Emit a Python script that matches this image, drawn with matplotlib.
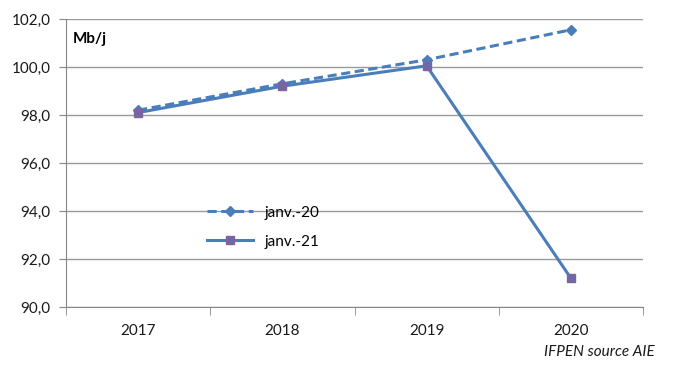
import matplotlib.pyplot as plt
from matplotlib.ticker import FixedLocator, FuncFormatter

years = ["2017", "2018", "2019", "2020"]
janv20 = [98.2, 99.3, 100.3, 101.55]
janv21 = [98.1, 99.2, 100.05, 91.2]
y_ticks = [90, 92, 94, 96, 98, 100, 102]

plt.rcParams["font.family"] = ["Lato", "DejaVu Sans"]

fig = plt.figure(figsize=(6.74, 3.74), dpi=100)
ax = fig.add_axes([66 / 674, 1 - 307 / 374, 577 / 674, 288 / 374])

x = list(range(len(years)))
blue = "#4a7ebb"
ax.plot(x, janv20, color=blue, lw=2.2, ls=(0, (3, 1.5)), marker="D", ms=5,
        mfc=blue, mec=blue, label="janv.-20", zorder=3)
ax.plot(x, janv21, color=blue, lw=2.2, marker="s", ms=6,
        mfc="#6b6aa6", mec="#8a5f99", label="janv.-21", zorder=4)

ax.set_xlim(-0.5, 3.5)
ax.set_ylim(90, 102)
ax.set_yticks(y_ticks)
ax.yaxis.set_major_formatter(FuncFormatter(lambda v, p: f"{v:.1f}".replace(".", ",")))
ax.set_xticks(x)
ax.set_xticklabels(years)
ax.xaxis.set_minor_locator(FixedLocator([-0.5, 0.5, 1.5, 2.5, 3.5]))
ax.tick_params(axis="x", which="major", length=0, pad=12, labelsize=11, colors="#1a1a1a")
ax.tick_params(axis="x", which="minor", length=6, color="#888888")
ax.tick_params(axis="y", length=5, color="#888888", labelcolor="#1a1a1a",
               labelsize=11, pad=6)

ax.grid(axis="y", color="#9a9a9a", lw=1)
ax.set_axisbelow(True)
for s in ["top", "right"]:
    ax.spines[s].set_visible(False)
for s in ["left", "bottom"]:
    ax.spines[s].set_color("#888888")

ax.text(0.012, 0.955, "Mb/j", transform=ax.transAxes, fontsize=11,
        fontweight="bold", va="top", ha="left")

leg = ax.legend(loc="upper left", bbox_to_anchor=(0.22, 0.40), frameon=False,
                fontsize=11, handlelength=3, labelspacing=1.0)

fig.text(655 / 674, 1 - 352 / 374, "IFPEN source AIE", fontsize=11,
         style="italic", ha="right", va="center", color="#1a1a1a")

fig.savefig("out.png", dpi=100)
